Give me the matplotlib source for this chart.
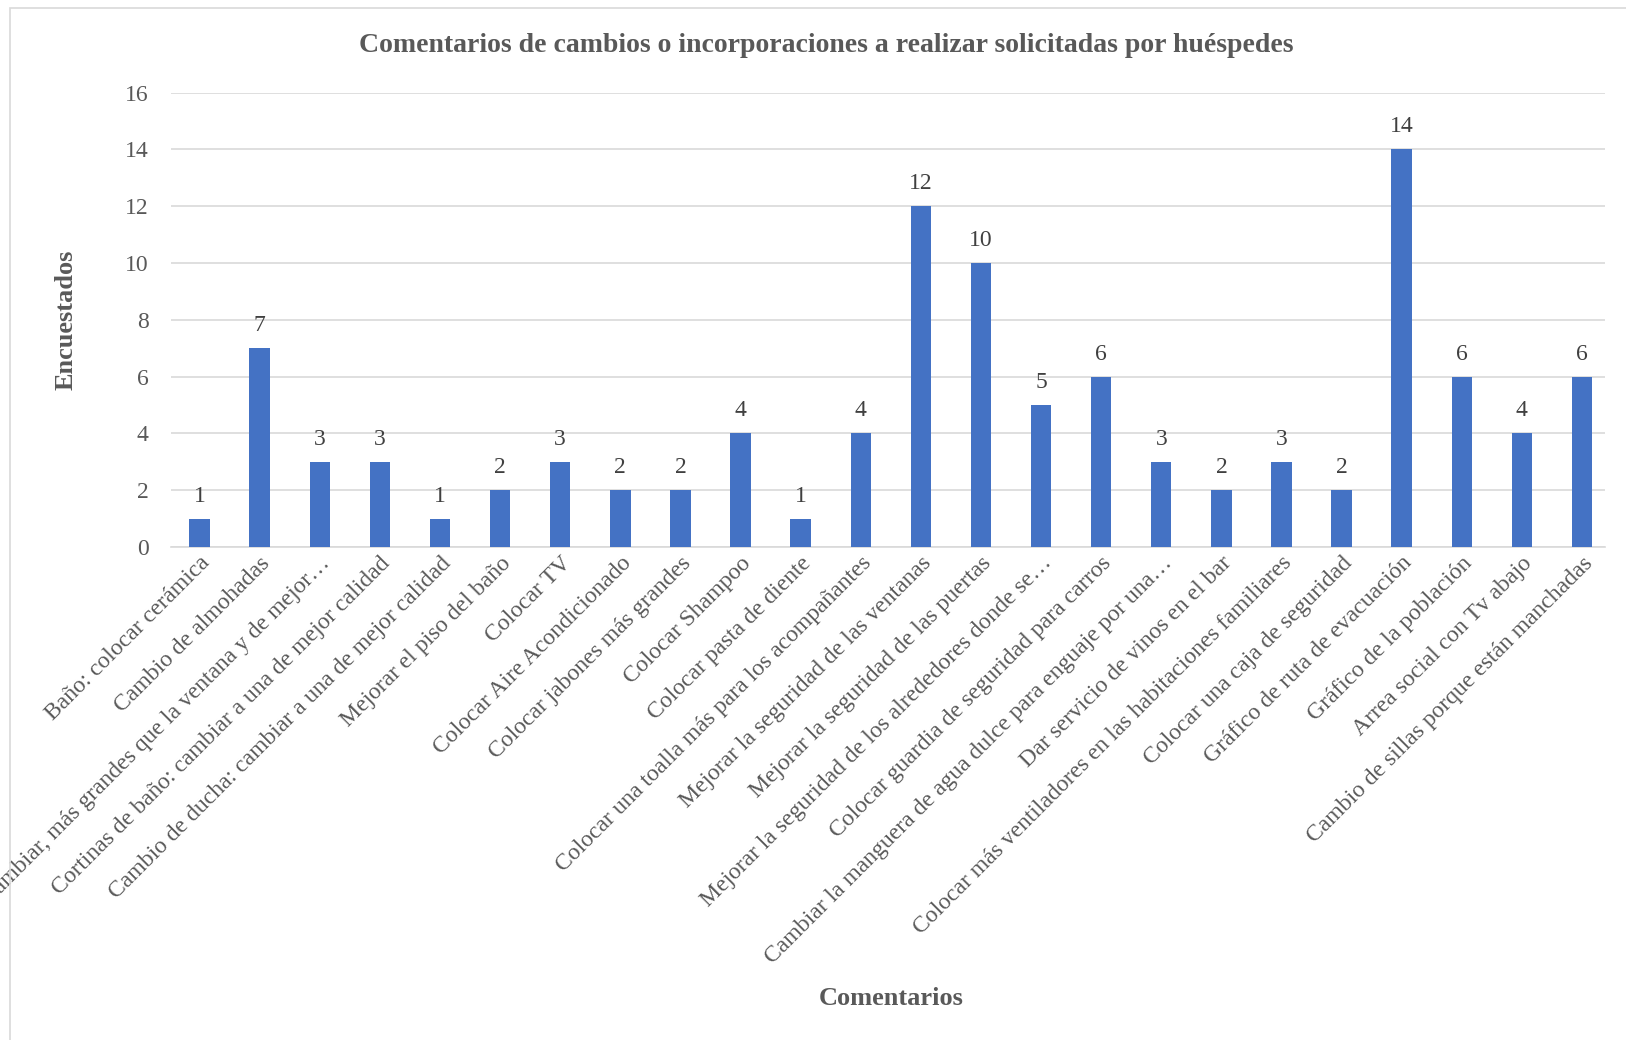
import matplotlib.pyplot as plt
from matplotlib.patches import Rectangle

# ==============================
# DATA
# ==============================

comentarios = [
    "Baño: colocar cerámica",
    "Cambio de almohadas",
    "Cambiar, más grandes que la ventana y de mejor…",
    "Cortinas de baño: cambiar a una de mejor calidad",
    "Cambio de ducha: cambiar a una de mejor calidad",
    "Mejorar el piso del baño",
    "Colocar TV",
    "Colocar Aire Acondicionado",
    "Colocar jabones más grandes",
    "Colocar Shampoo",
    "Colocar pasta de diente",
    "Colocar una toalla más para los acompañantes",
    "Mejorar la seguridad de las ventanas",
    "Mejorar la seguridad de las puertas",
    "Mejorar la seguridad de los alrededores donde se…",
    "Colocar guardia de seguridad para carros",
    "Cambiar la manguera de agua dulce para enguaje por una…",
    "Dar servicio de vinos en el bar",
    "Colocar más ventiladores en las habitaciones familiares",
    "Colocar una caja de seguridad",
    "Gráfico de ruta de evacuación",
    "Gráfico de la población",
    "Arrea social con Tv abajo",
    "Cambio de sillas porque están manchadas",
]

encuestados = [1, 7, 3, 3, 1, 2, 3, 2, 2, 4, 1, 4, 12, 10, 5, 6, 3, 2, 3, 2, 14, 6, 4, 6]

yticks = [0, 2, 4, 6, 8, 10, 12, 14, 16]

# ==============================
# STYLE
# ==============================

plt.rcParams['font.family'] = ['Liberation Serif', 'DejaVu Serif']
bar_color = "#4472C4"
text_color = "#595959"

fig = plt.figure(figsize=(16.26, 10.4), dpi=100)
ax = fig.add_axes([0.105, 0.474, 0.882, 0.437])

# light chart border
fig.patches.append(Rectangle((0.006, -0.01), 1.1, 1.002, transform=fig.transFigure,
                             fill=False, edgecolor="#D9D9D9", linewidth=1.2))

x = list(range(len(comentarios)))
bars = ax.bar(x, encuestados, width=0.34, color=bar_color, zorder=3)

for xi, v in zip(x, encuestados):
    ax.text(xi, v + 0.42, str(v), ha="center", va="bottom",
            fontsize=17, color="#404040")

ax.set_ylim(0, 16)
ax.set_xlim(-0.48, len(comentarios) - 0.62)
ax.set_yticks(yticks)
ax.yaxis.grid(True, color="#D9D9D9", linewidth=1.2, zorder=0)
ax.set_axisbelow(True)

for side in ["top", "right", "left"]:
    ax.spines[side].set_visible(False)
ax.spines["bottom"].set_color("#D9D9D9")
ax.spines["bottom"].set_linewidth(1.2)

ax.tick_params(axis="both", length=0, labelsize=17, labelcolor=text_color)
ax.tick_params(axis="y", pad=16)
ax.tick_params(axis="x", pad=4)
ax.set_xticks(x)
ax.set_xticklabels(comentarios, rotation=45, ha="right", rotation_mode="anchor")

ax.set_ylabel("Encuestados", fontsize=19, fontweight="bold", color=text_color, labelpad=34)

fig.text(0.548, 0.04, "Comentarios", ha="center", va="center",
         fontsize=19, fontweight="bold", color=text_color)
fig.text(0.508, 0.956, "Comentarios de cambios o incorporaciones a realizar solicitadas por huéspedes",
         ha="center", va="center", fontsize=20, fontweight="bold", color=text_color)

plt.savefig("out.png", dpi=100)
plt.close()
